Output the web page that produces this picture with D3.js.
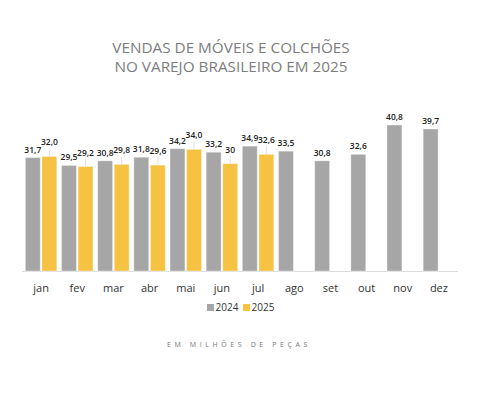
<!DOCTYPE html>
<html>
<head>
<meta charset="utf-8">
<script src="https://cdn.jsdelivr.net/npm/d3@7"></script>
<style>
  body { margin: 0; background: #fff; }
  svg { display: block; }
</style>
</head>
<body>
<svg width="481" height="397"></svg>
<script>
// vendas mensais, em milhoes de pecas
var months = ["jan", "fev", "mar", "abr", "mai", "jun", "jul", "ago", "set", "out", "nov", "dez"];
var values2024 = [31.7, 29.5, 30.8, 31.8, 34.2, 33.2, 34.9, 33.5, 30.8, 32.6, 40.8, 39.7];
var values2025 = [32.0, 29.2, 29.8, 29.6, 34.0, 30, 32.6];
var labels2024 = ["31,7", "29,5", "30,8", "31,8", "34,2", "33,2", "34,9", "33,5", "30,8", "32,6", "40,8", "39,7"];
var labels2025 = ["32,0", "29,2", "29,8", "29,6", "34,0", "30", "32,6"];
var seriesNames = ["2024", "2025"];
var colors = ["#a6a6a6", "#f5c242"];
var titleLines = ["VENDAS DE MÓVEIS E COLCHÕES", "NO VAREJO BRASILEIRO EM 2025"];

var svg = d3.select("svg"),
    font = "'Open Sans', 'Noto Sans', sans-serif";

var x = d3.scaleBand().domain(months).range([23, 457]).paddingInner(0.13).paddingOuter(0.065),
    xs = d3.scaleBand().domain(seriesNames).range([0, x.bandwidth()]).paddingInner(0.1),
    y = d3.scaleLinear().domain([0, 45]).range([271, 110]);

// title
svg.append("g").selectAll("text")
  .data(titleLines)
  .join("text")
  .attr("x", 231)
  .attr("y", function(d, i) { return 53 + i * 19; })
  .attr("text-anchor", "middle")
  .attr("font-family", font)
  .attr("font-size", 15.3)
  .attr("font-weight", 500)
  .attr("fill", "#7d7d7d")
  .text(function(d) { return d; });

// flatten both series into one list of bars
var bars = [];
months.forEach(function(m, i) {
  bars.push({ month: m, s: "2024", v: values2024[i], label: labels2024[i] });
  if (i < values2025.length) bars.push({ month: m, s: "2025", v: values2025[i], label: labels2025[i] });
});

// axis line
svg.append("line")
  .attr("x1", x.range()[0] - 1).attr("x2", x.range()[1] + 1)
  .attr("y1", y(0) + 0.5).attr("y2", y(0) + 0.5)
  .attr("stroke", "#dddddd");

svg.append("g").selectAll("rect")
  .data(bars)
  .join("rect")
  .attr("x", function(d) { return x(d.month) + xs(d.s); })
  .attr("y", function(d) { return y(d.v); })
  .attr("width", xs.bandwidth())
  .attr("height", function(d) { return y(0) - y(d.v); })
  .attr("fill", function(d) { return colors[seriesNames.indexOf(d.s)]; })
  .attr("stroke", "#fff")
  .attr("stroke-opacity", 0.35)
  .attr("stroke-width", 1);

// leader lines for 2025 labels
svg.append("g").selectAll("line")
  .data(bars.filter(function(d) { return d.s === "2025"; }))
  .join("line")
  .attr("x1", function(d) { return x(d.month) + xs(d.s) + xs.bandwidth() / 2; })
  .attr("x2", function(d) { return x(d.month) + xs(d.s) + xs.bandwidth() / 2; })
  .attr("y1", function(d) { return y(d.v) - 8; })
  .attr("y2", function(d) { return y(d.v); })
  .attr("stroke", "#e0e0e0");

// value labels
svg.append("g").selectAll("text")
  .data(bars)
  .join("text")
  .attr("x", function(d) { return x(d.month) + xs(d.s) + xs.bandwidth() / 2; })
  .attr("y", function(d) { return y(d.v) - (d.s === "2025" ? 14 : 8); })
  .attr("dy", "0.35em")
  .attr("text-anchor", "middle")
  .attr("font-family", font)
  .attr("font-size", 8.5)
  .attr("font-weight", 600)
  .attr("fill", "#222")
  .text(function(d) { return d.label; });

// month labels
var xAxis = svg.append("g")
  .attr("transform", "translate(0," + y(0) + ")")
  .call(d3.axisBottom(x).tickSize(0).tickPadding(13));
xAxis.select(".domain").remove();
xAxis.selectAll("text")
  .attr("font-family", font)
  .attr("font-size", 11)
  .attr("fill", "#333");

// legend
var legend = svg.append("g").selectAll("g")
  .data(seriesNames)
  .join("g")
  .attr("transform", function(d, i) { return "translate(" + (207 + i * 36) + ",304)"; });
legend.append("rect")
  .attr("width", 7).attr("height", 7)
  .attr("fill", function(d, i) { return colors[i]; });
legend.append("text")
  .attr("x", 8.5).attr("y", 3.5).attr("dy", "0.35em")
  .attr("font-family", font)
  .attr("font-size", 10)
  .attr("fill", "#333")
  .text(function(d) { return d; });

// unit note
svg.append("text")
  .attr("x", 239).attr("y", 344.5).attr("dy", "0.35em")
  .attr("text-anchor", "middle")
  .attr("font-family", font)
  .attr("font-size", 7)
  .attr("letter-spacing", 3.6)
  .attr("fill", "#777")
  .text("EM MILHÕES DE PEÇAS");
</script>
</body>
</html>
